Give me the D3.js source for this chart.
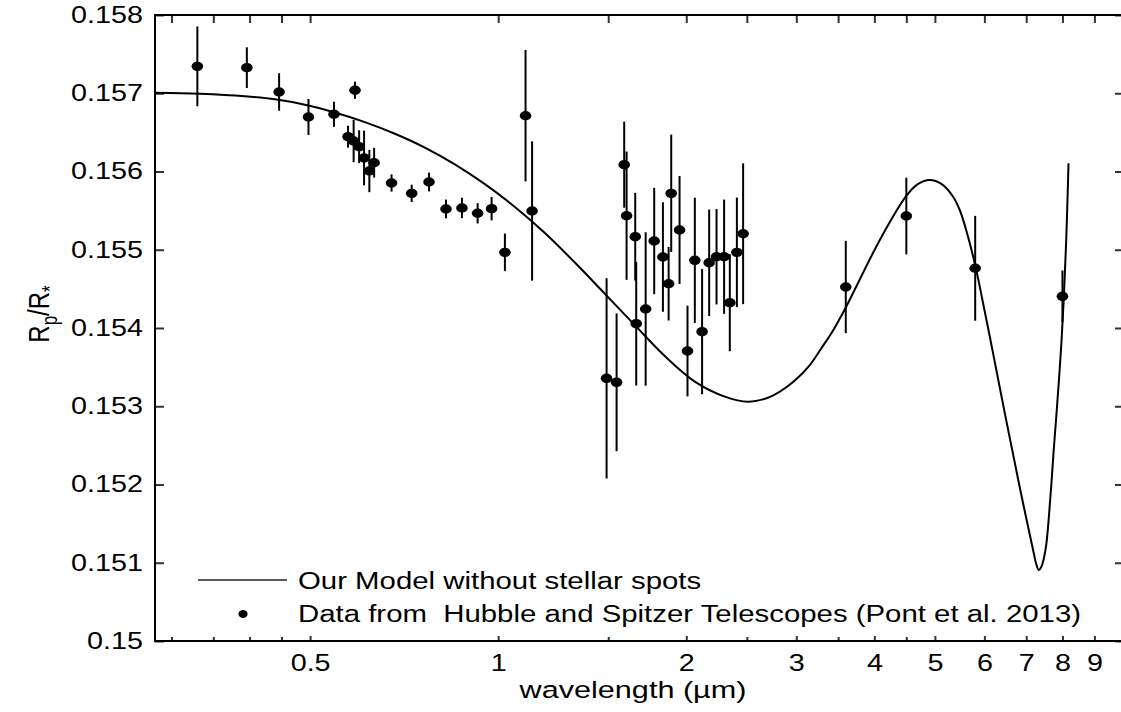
<!DOCTYPE html>
<html lang="en">
<head>
  <meta charset="UTF-8">
  <title>Rp/R* versus wavelength</title>
  <style>
    body { margin: 0; background: #fff; }
    svg text { font-family: Arial, "Liberation Sans", sans-serif; fill: #000; }
    .axis path { display: none; }
    .axis line { stroke: #333; stroke-width: 2; }
    .frame { fill: none; stroke: #000; stroke-width: 2; }
  </style>
</head>
<body>
  <div id="chart"></div>
  <script src="https://d3js.org/d3.v7.min.js"></script>
  <script>
    // data points (Pont et al. 2013)
    var wavelength = [0.330, 0.396, 0.446, 0.497, 0.546, 0.590, 0.575, 0.587, 0.599, 0.610,
      0.622, 0.633, 0.675, 0.727, 0.775, 0.825, 0.875, 0.927, 0.976, 1.025,
      1.106, 1.133, 1.491, 1.547, 1.591, 1.605, 1.657, 1.663, 1.722, 1.777,
      1.835, 1.874, 1.892, 1.951, 2.009, 2.064, 2.120, 2.176, 2.236, 2.299,
      2.348, 2.410, 2.466, 3.6, 4.5, 5.8, 8.0]
    var radiusRatio = [0.157344, 0.157327, 0.157016, 0.156697, 0.156731, 0.157038, 0.156445, 0.156390, 0.156317, 0.156173,
      0.156006, 0.156112, 0.155853, 0.155721, 0.155866, 0.155521, 0.155534, 0.155466, 0.155525, 0.154967,
      0.156713, 0.155495, 0.153357, 0.153306, 0.156087, 0.155435, 0.155167, 0.154055, 0.154243, 0.155112,
      0.154907, 0.154566, 0.155721, 0.155252, 0.153706, 0.154865, 0.153953, 0.154834, 0.154911, 0.154911,
      0.154323, 0.154967, 0.155205, 0.154524, 0.155431, 0.154763, 0.154405]
    var radiusErr = [0.00051, 0.00026, 0.00024, 0.00023, 0.00016, 0.00011, 0.00014, 0.00027, 0.00021, 0.00035,
      0.00027, 0.00019, 0.00011, 0.00011, 0.00012, 0.00012, 0.00013, 0.00013, 0.00015, 0.00024,
      0.00084, 0.00089, 0.00128, 0.00088, 0.00055, 0.00082, 0.00056, 0.00079, 0.00098, 0.00068,
      0.00070, 0.00047, 0.00075, 0.00069, 0.00058, 0.00080, 0.00080, 0.00068, 0.00061, 0.00073,
      0.00062, 0.00070, 0.00090, 0.00059, 0.00049, 0.00067, 0.00033]

    // model curve
    var modelWavelength = [0.2823, 0.3332, 0.3933, 0.4393, 0.4906, 0.5479, 0.6119, 0.6834, 0.7632, 0.8523,
      0.9522, 1.0635, 1.1877, 1.3264, 1.4814, 1.6544, 1.8477, 2.0641, 2.3051, 2.5092,
      2.6883, 2.8235, 2.9837, 3.1534, 3.2921, 3.4314, 3.6000, 4.0812, 4.4905, 4.6935,
      4.9064, 5.1282, 5.3456, 5.4792, 5.6160, 5.7906, 5.9704, 6.1583, 6.3475, 6.5060,
      6.6681, 6.8338, 7.0053, 7.1171, 7.1962, 7.2628, 7.3300, 7.3978, 7.4664, 7.5355,
      7.6138, 7.6813, 7.7468, 7.8185, 7.8909, 7.9640, 8.0377, 8.1121, 8.1811]
    var modelRatio = [0.157007, 0.156993, 0.156961, 0.156923, 0.156854, 0.156754, 0.156631, 0.156482, 0.156305, 0.156091,
      0.155838, 0.155546, 0.155213, 0.154837, 0.154438, 0.154036, 0.153641, 0.153315, 0.153123, 0.153058,
      0.153102, 0.153186, 0.153329, 0.153527, 0.153744, 0.153962, 0.154262, 0.155125, 0.155678, 0.155838,
      0.155891, 0.155838, 0.155678, 0.155508, 0.155240, 0.154827, 0.154320, 0.153783, 0.153246, 0.152812,
      0.152390, 0.151968, 0.151559, 0.151304, 0.151125, 0.150984, 0.150907, 0.150946, 0.151048, 0.151227,
      0.151610, 0.152015, 0.152441, 0.152856, 0.153297, 0.153770, 0.154358, 0.155125, 0.156105]

    var xMajorTicks = [0.5, 1, 2, 3, 4, 5, 6, 7, 8, 9]
    var xMinorTicks = [0.3, 0.35, 0.4, 0.45, 1.5, 2.5, 3.5, 4.5]
    var yTicks = [0.15, 0.151, 0.152, 0.153, 0.154, 0.155, 0.156, 0.157, 0.158]

    var width = 1121
    var height = 712
    var padding = {left: 155, right: -2, top: 15, bottom: 71}
    var stretch = 'scale(1.25,1)'   // the original fonts are wide

    var svg = d3.select('#chart')
      .append('svg')
      .attr('width', width)
      .attr('height', height)

    var xScale = d3.scaleLog()
      .domain([0.2823, 10])
      .range([padding.left, width - padding.right])
    var yScale = d3.scaleLinear()
      .domain([0.15, 0.158])
      .range([height - padding.bottom, padding.top])

    function styleAxis(g) {
      g.attr('font-size', 23).attr('font-family', 'Arial, "Liberation Sans", sans-serif')
      g.selectAll('text').attr('transform', stretch)
    }

    // axes, ticks point inward
    svg.append('g')
      .attr('class', 'axis')
      .attr('transform', 'translate(0,' + (height - padding.bottom) + ')')
      .call(d3.axisBottom(xScale).tickValues(xMajorTicks).tickFormat(function (d) { return String(d) })
        .tickSize(-5).tickPadding(14))
      .call(styleAxis)
    svg.append('g')
      .attr('class', 'axis')
      .attr('transform', 'translate(0,' + (height - padding.bottom) + ')')
      .call(d3.axisBottom(xScale).tickValues(xMinorTicks).tickFormat('').tickSize(-4))
    svg.append('g')
      .attr('class', 'axis')
      .attr('transform', 'translate(0,' + padding.top + ')')
      .call(d3.axisTop(xScale).tickValues(xMajorTicks.concat(xMinorTicks)).tickFormat('').tickSize(-8))
    svg.append('g')
      .attr('class', 'axis')
      .attr('transform', 'translate(' + padding.left + ',0)')
      .call(d3.axisLeft(yScale).tickValues(yTicks).tickFormat(function (d) { return String(+d.toFixed(3)) })
        .tickSize(-9).tickPadding(9.6))
      .call(styleAxis)
    svg.append('g')
      .attr('class', 'axis')
      .attr('transform', 'translate(' + (width - padding.right) + ',0)')
      .call(d3.axisRight(yScale).tickValues(yTicks).tickFormat('').tickSize(-8))

    svg.append('rect')
      .attr('class', 'frame')
      .attr('x', padding.left)
      .attr('y', padding.top)
      .attr('width', width - padding.right - padding.left)
      .attr('height', height - padding.bottom - padding.top)

    // model line
    var line = d3.line()
      .x(function (d) { return xScale(d[0]) })
      .y(function (d) { return yScale(d[1]) })
      .curve(d3.curveCatmullRom.alpha(0.5))
    svg.append('path')
      .datum(d3.zip(modelWavelength, modelRatio))
      .attr('d', line)
      .attr('fill', 'none')
      .attr('stroke', '#000')
      .attr('stroke-width', 2)

    // error bars and points
    var points = d3.range(wavelength.length)
    svg.selectAll('.errbar')
      .data(points)
      .enter()
      .append('line')
      .attr('class', 'errbar')
      .attr('x1', function (i) { return xScale(wavelength[i]) })
      .attr('x2', function (i) { return xScale(wavelength[i]) })
      .attr('y1', function (i) { return yScale(radiusRatio[i] - radiusErr[i]) })
      .attr('y2', function (i) { return yScale(radiusRatio[i] + radiusErr[i]) })
      .attr('stroke', '#000')
      .attr('stroke-width', 2)
    svg.selectAll('.dot')
      .data(points)
      .enter()
      .append('ellipse')
      .attr('class', 'dot')
      .attr('cx', function (i) { return xScale(wavelength[i]) })
      .attr('cy', function (i) { return yScale(radiusRatio[i]) })
      .attr('rx', 5.8)
      .attr('ry', 4.7)
      .attr('fill', '#000')

    // legend
    svg.append('line')
      .attr('x1', 198).attr('x2', 287)
      .attr('y1', 580).attr('y2', 580)
      .attr('stroke', '#222')
      .attr('stroke-width', 1.5)
    svg.append('text')
      .attr('transform', 'translate(298,589) ' + stretch)
      .attr('font-size', 23.5)
      .text('Our Model without stellar spots')
    svg.append('ellipse')
      .attr('cx', 243).attr('cy', 614)
      .attr('rx', 4.6).attr('ry', 4)
      .attr('fill', '#000')
    svg.append('text')
      .attr('transform', 'translate(298,622) ' + stretch)
      .attr('font-size', 23.5)
      .attr('xml:space', 'preserve')
      .style('white-space', 'pre')
      .text('Data from  Hubble and Spitzer Telescopes (Pont et al. 2013)')

    // axis titles
    svg.append('text')
      .attr('transform', 'translate(633,698) ' + stretch)
      .attr('font-size', 24.5)
      .attr('text-anchor', 'middle')
      .text('wavelength (\u00b5m)')
    var ylab = svg.append('text')
      .attr('transform', 'translate(49,314) rotate(-90) scale(1,1.25)')
      .attr('font-size', 24)
      .attr('text-anchor', 'middle')
    ylab.append('tspan').text('R')
    ylab.append('tspan').attr('font-size', 17).attr('dy', 6).text('p')
    ylab.append('tspan').attr('dy', -6).text('/R')
    ylab.append('tspan').attr('font-size', 17).attr('dy', 6).text('*')
  </script>
</body>
</html>
